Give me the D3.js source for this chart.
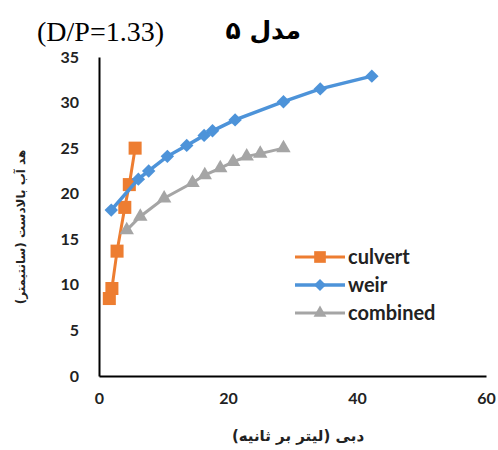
<!DOCTYPE html>
<html>
<head>
<meta charset="utf-8">
<script src="https://cdn.jsdelivr.net/npm/d3@7"></script>
<style>
  html, body { margin: 0; padding: 0; background: #fff; }
  svg { display: block; }
</style>
</head>
<body>
<svg id="chart" width="498" height="450"></svg>
<script>
// Discharge (L/s) and upstream head (cm) for each structure
const culvertQ = [1.6, 2.0, 2.8, 4.0, 4.7, 5.6];
const culvertH = [8.5, 9.6, 13.7, 18.5, 21.0, 25.0];

const weirQ = [1.9, 6.1, 7.7, 10.6, 13.6, 16.3, 17.6, 21.1, 28.6, 34.3, 42.3];
const weirH = [18.2, 21.6, 22.5, 24.1, 25.3, 26.4, 26.9, 28.1, 30.1, 31.5, 32.9];

const combinedQ = [4.3, 6.4, 10.1, 14.5, 16.4, 18.8, 20.8, 22.9, 25.0, 28.6];
const combinedH = [16.0, 17.5, 19.5, 21.2, 22.05, 22.8, 23.5, 24.1, 24.4, 25.0];

const xTicks = [0, 20, 40, 60];
const yTicks = [0, 5, 10, 15, 20, 25, 30, 35];

const seriesNames = ["culvert", "weir", "combined"];

const series = [
  { name: seriesNames[0], q: culvertQ, h: culvertH, color: "#ED7D31", symbol: d3.symbolSquare, size: 170, width: 3 },
  { name: seriesNames[1], q: weirQ, h: weirH, color: "#4D93D9", symbol: d3.symbolDiamond2, size: 115, width: 3.5 },
  { name: seriesNames[2], q: combinedQ, h: combinedH, color: "#A5A5A5", symbol: d3.symbolTriangle, size: 90, width: 3 }
];

const svg = d3.select("#chart");
const margin = { left: 99, top: 57, right: 12, bottom: 74 };
const W = 498, H = 450;

const x = d3.scaleLinear().domain([0, 60]).range([margin.left, W - margin.right]);
const y = d3.scaleLinear().domain([0, 35]).range([H - margin.bottom, margin.top]);

const tickFont = "Lato, 'Open Sans', sans-serif";

// Axes: plain black lines, no tick marks
const xAxis = svg.append("g")
  .attr("transform", `translate(0,${y(0)})`)
  .call(d3.axisBottom(x).tickValues(xTicks).tickSize(0).tickPadding(17));
const yAxis = svg.append("g")
  .attr("transform", `translate(${x(0)},0)`)
  .call(d3.axisLeft(y).tickValues(yTicks).tickSize(0).tickPadding(20));

[xAxis, yAxis].forEach(g => {
  g.select(".domain").attr("stroke", "#000").attr("stroke-width", 2);
  g.selectAll("text")
    .attr("font-family", tickFont)
    .attr("font-weight", "bold")
    .attr("font-size", 16)
    .attr("fill", "#222");
});

// Series lines and markers
series.forEach(s => {
  const pts = s.q.map((q, i) => [q, s.h[i]]);
  svg.append("path")
    .datum(pts)
    .attr("fill", "none")
    .attr("stroke", s.color)
    .attr("stroke-width", s.width)
    .attr("d", d3.line().x(d => x(d[0])).y(d => y(d[1])));
  svg.append("g").selectAll("path")
    .data(pts)
    .join("path")
    .attr("transform", d => `translate(${x(d[0])},${y(d[1])})`)
    .attr("d", d3.symbol(s.symbol, s.size))
    .attr("fill", s.color);
});

// Legend
const legend = svg.append("g").attr("transform", "translate(295,257)");
series.forEach((s, i) => {
  const g = legend.append("g").attr("transform", `translate(0,${i * 28})`);
  g.append("line")
    .attr("x1", 0).attr("x2", 50)
    .attr("stroke", s.color).attr("stroke-width", s.width);
  g.append("path")
    .attr("transform", "translate(25,0)")
    .attr("d", d3.symbol(s.symbol, s.size * 0.8))
    .attr("fill", s.color);
  g.append("text")
    .attr("x", 53).attr("y", 0).attr("dy", "0.35em")
    .attr("font-family", tickFont)
    .attr("font-weight", "bold")
    .attr("font-size", 20)
    .attr("fill", "#222")
    .text(s.name);
});

// Title
svg.append("text")
  .attr("x", 37).attr("y", 41)
  .attr("font-family", "'Liberation Serif', 'Times New Roman', serif")
  .attr("font-size", 28)
  .attr("fill", "#000")
  .text("(D/P=1.33)");
svg.append("text")
  .attr("x", 301).attr("y", 39)
  .attr("text-anchor", "end")
  .attr("font-family", "'DejaVu Sans', sans-serif")
  .attr("font-weight", "bold")
  .attr("font-size", 25)
  .attr("fill", "#000")
  .text("مدل ۵");

// Axis titles
svg.append("text")
  .attr("x", 298).attr("y", 441)
  .attr("text-anchor", "middle")
  .attr("font-family", "'DejaVu Sans', sans-serif")
  .attr("font-weight", "bold")
  .attr("font-size", 15)
  .attr("fill", "#222")
  .text("دبی (لیتر بر ثانیه)");
svg.append("text")
  .attr("transform", "translate(25,227) rotate(-90)")
  .attr("text-anchor", "middle")
  .attr("font-family", "'DejaVu Sans', sans-serif")
  .attr("font-weight", "bold")
  .attr("font-size", 12)
  .attr("fill", "#222")
  .text("هد آب بالادست (سانتیمتر)");
</script>
</body>
</html>
